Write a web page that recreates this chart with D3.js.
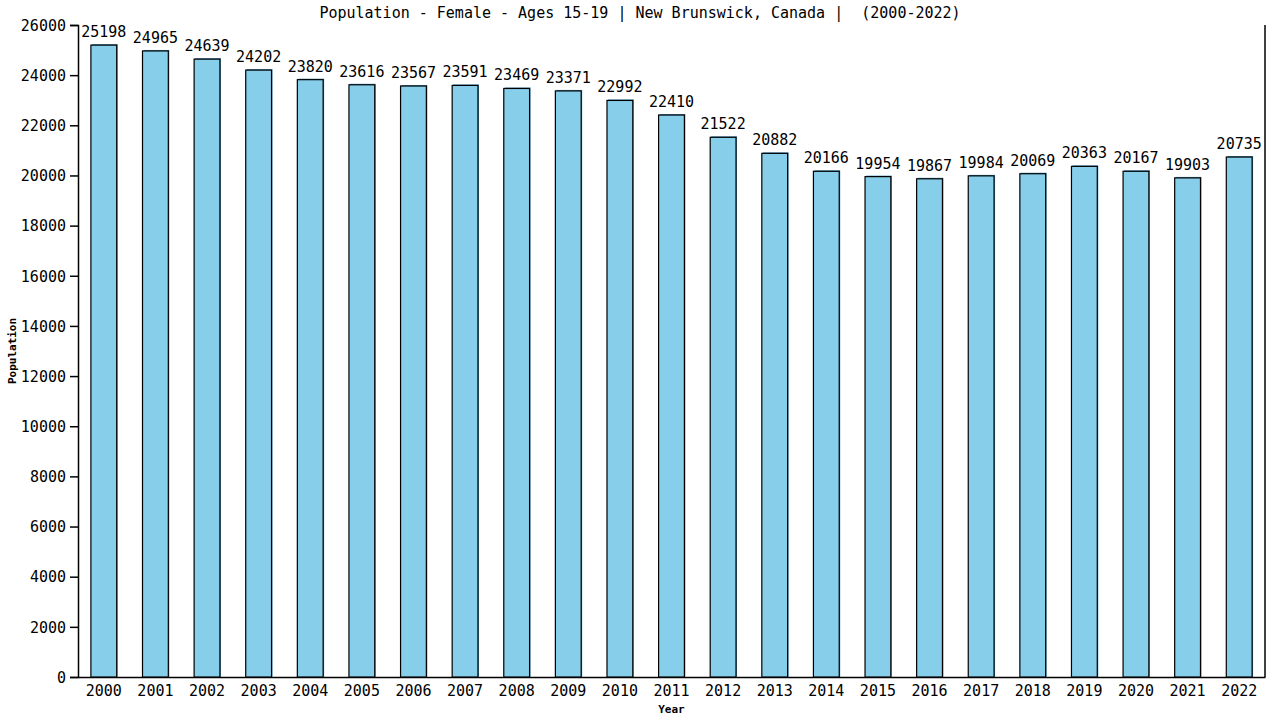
<!DOCTYPE html>
<html>
<head>
<meta charset="utf-8">
<script src="https://cdn.jsdelivr.net/npm/d3@7"></script>
<style>
  body { margin: 0; background: #fff; }
  svg text { font-family: "DejaVu Sans Mono", monospace; fill: #000; }
</style>
</head>
<body>
<svg id="chart" width="1280" height="720"></svg>
<script>
// data
const years = ["2000","2001","2002","2003","2004","2005","2006","2007","2008","2009","2010","2011",
  "2012","2013","2014","2015","2016","2017","2018","2019","2020","2021","2022"];
const population = [25198,24965,24639,24202,23820,23616,23567,23591,23469,23371,22992,22410,
  21522,20882,20166,19954,19867,19984,20069,20363,20167,19903,20735];
const yTicks = [0,2000,4000,6000,8000,10000,12000,14000,16000,18000,20000,22000,24000,26000];

const svg = d3.select("#chart"),
  margin = { top: 25, right: 15, bottom: 43, left: 78 },
  width = 1280 - margin.left - margin.right,
  height = 720 - margin.top - margin.bottom,
  g = svg.append("g").attr("transform", "translate(" + margin.left + "," + margin.top + ")");

const x = d3.scaleBand().domain(years).range([0, width]).paddingInner(0.5).paddingOuter(0.25);
const y = d3.scaleLinear().domain([0, 26000]).range([height, 0]);

// title
svg.append("text")
  .attr("x", 640).attr("y", 18)
  .attr("text-anchor", "middle")
  .style("font-size", "15px")
  .style("white-space", "pre")
  .text("Population - Female - Ages 15-19 | New Brunswick, Canada |  (2000-2022)");

// y axis
const yAxis = g.append("g")
  .call(d3.axisLeft(y).tickValues(yTicks).tickSize(8).tickPadding(4).tickFormat(d3.format("d")));
yAxis.select(".domain").attr("stroke", "#000").attr("stroke-width", 1.5);
yAxis.selectAll(".tick line").attr("stroke", "#000").attr("stroke-width", 1.5);
yAxis.selectAll("text").style("font-size", "15px").attr("dy", "0.35em");

// x axis
const xAxis = g.append("g")
  .attr("transform", "translate(0," + height + ")")
  .call(d3.axisBottom(x).tickSize(0).tickPadding(8));
xAxis.select(".domain").attr("stroke", "#000").attr("stroke-width", 1.5);
xAxis.selectAll("text").style("font-size", "15px");

// right border
g.append("line")
  .attr("x1", width).attr("x2", width)
  .attr("y1", 0).attr("y2", height)
  .attr("stroke", "#000").attr("stroke-width", 1.5);

// bars: shadow then face
g.selectAll(".shadow")
  .data(population)
  .enter().append("rect")
  .attr("class", "shadow")
  .attr("x", (d, i) => x(years[i]) + 1)
  .attr("y", d => y(d) - 1)
  .attr("width", x.bandwidth())
  .attr("height", d => height - y(d) + 1)
  .attr("fill", "#4f94b8");

g.selectAll(".bar")
  .data(population)
  .enter().append("rect")
  .attr("class", "bar")
  .attr("x", (d, i) => x(years[i]))
  .attr("y", d => y(d))
  .attr("width", x.bandwidth())
  .attr("height", d => height - y(d))
  .attr("fill", "#87ceeb")
  .attr("stroke", "#000")
  .attr("stroke-width", 1.2);

// value labels
g.selectAll(".val")
  .data(population)
  .enter().append("text")
  .attr("class", "val")
  .attr("x", (d, i) => x(years[i]) + x.bandwidth() / 2)
  .attr("y", d => y(d) - 8)
  .attr("text-anchor", "middle")
  .style("font-size", "15px")
  .text(d => d);

// axis titles
svg.append("text")
  .attr("transform", "translate(16," + (margin.top + height / 2) + ") rotate(-90)")
  .attr("text-anchor", "middle")
  .style("font-size", "11px")
  .style("font-weight", "bold")
  .text("Population");

svg.append("text")
  .attr("x", margin.left + width / 2).attr("y", 713)
  .attr("text-anchor", "middle")
  .style("font-size", "11px")
  .style("font-weight", "bold")
  .text("Year");
</script>
</body>
</html>
